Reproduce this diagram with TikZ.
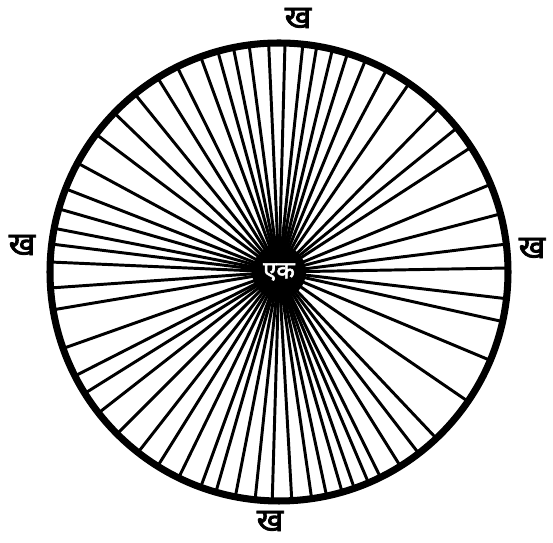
\documentclass[tikz,border=0pt]{standalone}
\usepackage{fontspec}
\usepackage{tikz}
\usetikzlibrary{positioning}
\newfontfamily\devfont[Script=Devanagari]{Noto Sans}
\newfontfamily\devbold[Script=Devanagari, FakeBold=2.5]{Noto Sans}

\begin{document}
\begin{tikzpicture}[x=0.025cm, y=0.025cm,
    spoke/.style={line width=2.1pt, black, line cap=round},
    rim/.style={line width=5pt, black},
    disha/.style={font=\devbold\fontsize{23}{23}\selectfont, inner sep=0pt}]
  \useasboundingbox (0,0) rectangle (553,543);
  % centro e aro
  \coordinate (ctr) at (279,271);
  % raios
  \foreach \a in {1,7,14.7,22.5,33,39,45.7,55.4,62,67.8,72.6,76.5,80.5,84,88.5,
      92.6,97.5,101.5,105.5,110,116.4,122,129,136,143,151.6,158.7,164,169,173,177.5,
      184,189.5,199.5,207,212,218,225,232,238,244,250,254,259,264,268.3,
      273.2,278.2,282,286,289.2,293,296.3,302,307.6,313.4,325.6,337.3,347.5,353.3}
    \draw[spoke] (ctr) -- ++(\a:229);
  \draw[rim] (ctr) circle (229);
  % nucleo
  \fill (ctr) circle (27);
  \node[font=\devbold\fontsize{17}{17}\selectfont, white, inner sep=0pt] (eka) at (ctr) {एक};
  % rotulos
  \node[disha] (topo) at (298,525) {ख};
  \node[disha] (esq) at (22,298) {ख};
  \node[disha] (dir) at (532,295) {ख};
  \node[disha] (base) at (270,22) {ख};
\end{tikzpicture}
\end{document}
